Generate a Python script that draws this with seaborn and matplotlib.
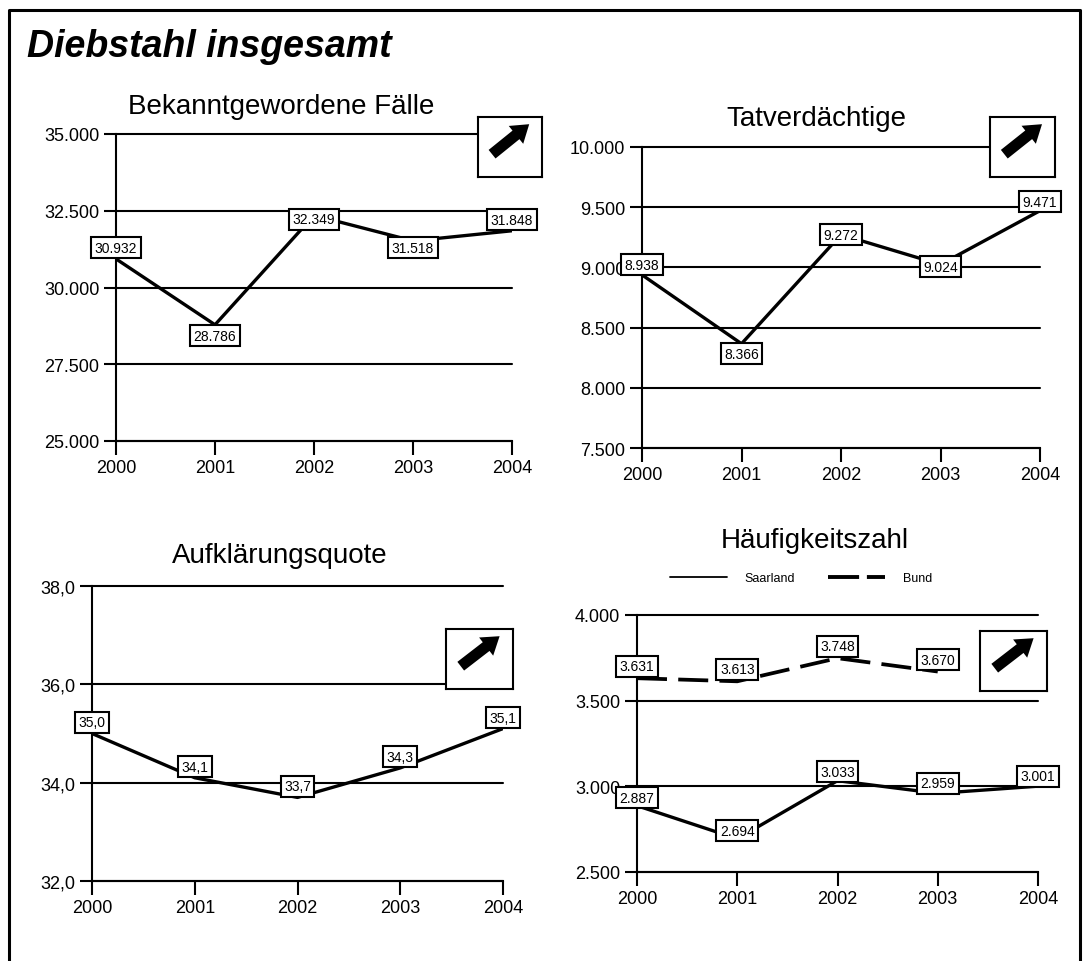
import numpy as np
import pandas as pd
import seaborn as sns
import matplotlib.pyplot as plt
from matplotlib.lines import Line2D
from matplotlib.ticker import FuncFormatter

# Daten
jahre = [2000, 2001, 2002, 2003, 2004]
faelle = [30932, 28786, 32349, 31518, 31848]
tatverdaechtige = [8938, 8366, 9272, 9024, 9471]
aufklaerung = [35.0, 34.1, 33.7, 34.3, 35.1]
hz_saarland = [2887, 2694, 3033, 2959, 3001]
jahre_bund = [2000, 2001, 2002, 2003]
hz_bund = [3631, 3613, 3748, 3670]

titel = ["Bekanntgewordene Fälle", "Tatverdächtige", "Aufklärungsquote", "Häufigkeitszahl"]

sns.set_theme(style="white")
plt.rcParams['font.family'] = ['Liberation Sans', 'DejaVu Sans']
plt.rcParams['text.color'] = 'black'
plt.rcParams['xtick.color'] = 'black'
plt.rcParams['ytick.color'] = 'black'
plt.rcParams['axes.labelcolor'] = 'black'

W, H = 1088, 962
fig = plt.figure(figsize=(W / 100, H / 100), dpi=100)


def rect(x0, y0, x1, y1):
    # Pixelkoordinaten (oben links) -> Figure-Koordinaten
    return [x0 / W, 1 - y1 / H, (x1 - x0) / W, (y1 - y0) / H]


tausender = FuncFormatter(lambda v, p: f"{v:,.0f}".replace(",", "."))
komma = FuncFormatter(lambda v, p: f"{v:.1f}".replace(".", ","))


def achse(pos, ylim, yticks, fmt):
    ax = fig.add_axes(rect(*pos))
    ax.set_xlim(2000, 2004)
    ax.set_ylim(*ylim)
    ax.set_xticks(jahre)
    ax.set_yticks(yticks)
    ax.yaxis.set_major_formatter(fmt)
    ax.yaxis.grid(True, color='black', lw=1.5)
    ax.xaxis.grid(False)
    for gl in ax.get_ygridlines():
        gl.set_clip_on(False)
    for s in ['top', 'right']:
        ax.spines[s].set_visible(False)
    for s in ['left', 'bottom']:
        ax.spines[s].set_color('black')
        ax.spines[s].set_linewidth(1.5)
    ax.tick_params(axis='y', direction='out', length=9, width=1.5, color='black',
                   labelcolor='black', labelsize=13, pad=3, left=True)
    ax.tick_params(axis='x', direction='out', length=10, width=1.5, color='black',
                   labelcolor='black', labelsize=13, pad=3, bottom=True)
    ax.set_xlabel('')
    ax.set_ylabel('')
    return ax


def beschriften(ax, x, y, fmt, dy):
    for xi, yi, d in zip(x, y, dy):
        ax.annotate(fmt(yi, None), (xi, yi), xytext=(0, d), textcoords='offset pixels',
                    ha='center', va='center', fontsize=10, zorder=6, color='black',
                    bbox=dict(boxstyle='square,pad=0.25', fc='white', ec='black', lw=1.5))


def pfeil(pos):
    x0, y0, x1, y1 = pos
    w, h = x1 - x0, y1 - y0
    iax = fig.add_axes(rect(*pos))
    iax.set_facecolor('white')
    iax.set_xlim(0, w)
    iax.set_ylim(0, h)
    iax.set_xticks([])
    iax.set_yticks([])
    for s in iax.spines.values():
        s.set_visible(True)
        s.set_color('black')
        s.set_linewidth(1.5)
    iax.arrow(0.22 * w, 0.38 * h, 0.58 * w, 0.5 * h, width=11, head_width=23,
              head_length=17, length_includes_head=True, color='black', lw=0)


# 1: Bekanntgewordene Fälle
ax1 = achse((116, 135, 512, 442), (25000, 35000), [25000, 27500, 30000, 32500, 35000], tausender)
sns.lineplot(x=jahre, y=faelle, ax=ax1, color='black', lw=2.4)
beschriften(ax1, jahre, faelle, tausender, [11, -11, -4, -7, 11])
pfeil((478, 118, 542, 178))

# 2: Tatverdächtige
ax2 = achse((642, 148, 1040, 449), (7500, 10000), [7500, 8000, 8500, 9000, 9500, 10000], tausender)
sns.lineplot(x=jahre, y=tatverdaechtige, ax=ax2, color='black', lw=2.4)
beschriften(ax2, jahre, tatverdaechtige, tausender, [10, -10, 0, -2, 9])
pfeil((990, 118, 1055, 178))

# 3: Aufklärungsquote
ax3 = achse((92, 587, 503, 882), (32, 38), [32, 34, 36, 38], komma)
sns.lineplot(x=jahre, y=aufklaerung, ax=ax3, color='black', lw=2.4)
beschriften(ax3, jahre, aufklaerung, komma, [11, 11, 11, 11, 11])
pfeil((446, 630, 513, 690))

# 4: Häufigkeitszahl
ax4 = achse((637, 616, 1038, 873), (2500, 4000), [2500, 3000, 3500, 4000], tausender)
sns.lineplot(x=jahre, y=hz_saarland, ax=ax4, color='black', lw=2.4)
sns.lineplot(x=jahre_bund, y=hz_bund, ax=ax4, color='black', lw=2.7, linestyle=(0, (8, 3)))
beschriften(ax4, jahre, hz_saarland, tausender, [8, 8, 9, 10, 10])
beschriften(ax4, jahre_bund, hz_bund, tausender, [12, 12, 12, 12])
pfeil((980, 632, 1047, 692))

fig.legend(handles=[Line2D([], [], color='black', lw=1.3),
                    Line2D([], [], color='black', lw=2.8, linestyle=(0, (8, 2)))],
           labels=['Saarland', 'Bund'], ncol=2, frameon=False, loc='center',
           bbox_to_anchor=(801 / W, 1 - 579 / H), fontsize=9, handlelength=4.6,
           handletextpad=1.4, columnspacing=2.6)

# Titel
fig.text(27 / W, 1 - 57 / H, "Diebstahl insgesamt", fontsize=27, fontweight='bold',
         fontstyle='italic', ha='left', va='baseline')
for (xc, yb), t in zip([(281, 114), (816, 126), (280, 563), (815, 548)], titel):
    fig.text(xc / W, 1 - yb / H, t, fontsize=20, ha='center', va='baseline')

# Rahmen (unten offen)
fig.add_artist(Line2D([9 / W, 9 / W, 1080 / W, 1080 / W], [0, 1 - 11 / H, 1 - 11 / H, 0],
                      transform=fig.transFigure, color='black', lw=2.2))

fig.savefig('out.png', dpi=100, facecolor='white')
